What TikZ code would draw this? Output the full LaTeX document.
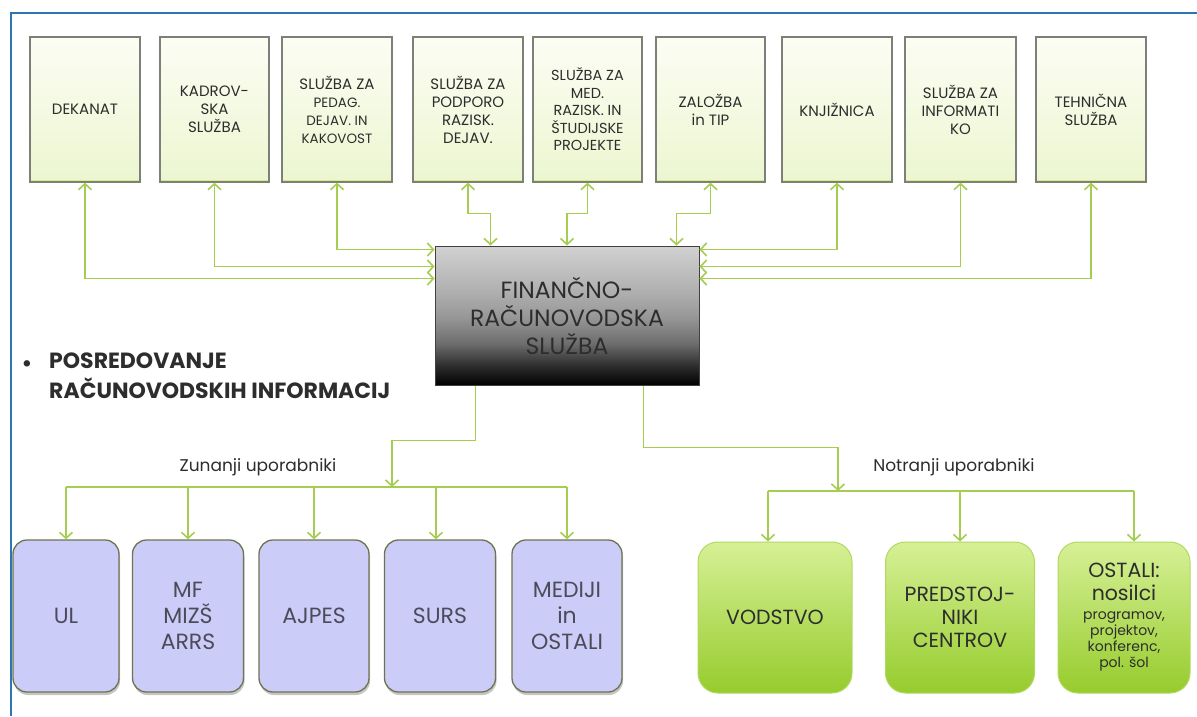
\documentclass[tikz,border=0pt]{standalone}
\usepackage{fontspec}
\setmainfont{Poppins}
\usetikzlibrary{arrows.meta,shadows,calc}
\definecolor{arrg}{RGB}{165,205,80}
\definecolor{framecol}{RGB}{46,117,182}
\definecolor{tbtop}{RGB}{252,253,244}
\definecolor{tbbot}{RGB}{236,246,208}
\definecolor{tbedge}{RGB}{215,236,130}
\definecolor{tbdraw}{RGB}{125,128,120}
\definecolor{lav}{RGB}{204,204,248}
\definecolor{lavdraw}{RGB}{110,115,80}
\definecolor{grtop}{RGB}{214,240,150}
\definecolor{grbot}{RGB}{150,204,45}
\definecolor{grdraw}{RGB}{178,216,95}
\definecolor{txt}{RGB}{45,45,45}
\definecolor{lavtxt}{RGB}{75,75,90}
\pgfdeclareverticalshading{finshade}{100bp}{color(0bp)=(black); color(25bp)=(black); color(32bp)=(black!82); color(40bp)=(black!57); color(50bp)=(black!40); color(60bp)=(black!30); color(75bp)=(black!18); color(100bp)=(black!18)}
\begin{document}
\begin{tikzpicture}[x=1pt,y=-1pt,
  topbox/.style={draw=tbdraw, line width=1.3pt, top color=tbtop, bottom color=tbbot,
    minimum height=145pt, align=center, text=txt, inner sep=1pt,
    font=\fontsize{15}{18}\selectfont,
    path picture={\draw[tbedge, line width=5pt] (path picture bounding box.south west) -- (path picture bounding box.south east);}},
  finbox/.style={draw=black!75, line width=1pt, shading=finshade,
    minimum width=264pt, minimum height=139pt, align=center, text=txt,
    font=\fontsize{23.5}{28}\selectfont},
  lavbox/.style={draw=lavdraw, line width=1.3pt, fill=lav, rounded corners=14pt,
    minimum height=152pt, align=center, text=lavtxt,
    font=\fontsize{22}{26}\selectfont,
    drop shadow={shadow xshift=1pt, shadow yshift=-3pt, opacity=0.45}},
  grbox/.style={draw=grdraw, line width=1pt, top color=grtop, bottom color=grbot, rounded corners=20pt,
    minimum height=151pt, align=center, text=txt,
    font=\fontsize{20.5}{23}\selectfont},
  lbl/.style={text=txt, font=\fontsize{17}{18}\selectfont},
  conn/.style={draw=arrg, line width=1.6pt},
  biarr/.style={conn, {Straight Barb[length=6pt,width=13pt]}-{Straight Barb[length=6pt,width=13pt]}},
  onearr/.style={conn, -{Straight Barb[length=6pt,width=13pt]}}
]
\useasboundingbox (0,0) rectangle (1197,716);
\fill[white] (0,0) rectangle (1197,716);
\draw[framecol, line width=2pt] (11,716) -- (11,13) -- (1197,13);

% top boxes
\node[topbox, minimum width=110pt] (dek) at (85,109.5) {DEKANAT};
\node[topbox, minimum width=109pt] (kad) at (214.5,109.5) {KADROV-\\SKA\\SLUŽBA};
\node[topbox, minimum width=110pt] (ped) at (337,109.5) {SLUŽBA ZA\\{\fontsize{13.5}{17}\selectfont PEDAG.}\\{\fontsize{13.5}{17}\selectfont DEJAV. IN}\\{\fontsize{13.5}{17}\selectfont KAKOVOST}};
\node[topbox, minimum width=110pt] (pod) at (468,109.5) {SLUŽBA ZA\\PODPORO\\RAZISK.\\DEJAV.};
\node[topbox, minimum width=109pt, font=\fontsize{14.5}{17.5}\selectfont] (med) at (587.5,109.5) {SLUŽBA ZA\\MED.\\RAZISK. IN\\ŠTUDIJSKE\\PROJEKTE};
\node[topbox, minimum width=109pt] (zal) at (710.5,109.5) {ZALOŽBA\\in TIP};
\node[topbox, minimum width=110pt] (knj) at (837,109.5) {KNJIŽNICA};
\node[topbox, minimum width=111pt] (inf) at (960.5,109.5) {SLUŽBA ZA\\INFORMATI\\KO};
\node[topbox, minimum width=110pt] (teh) at (1091,109.5) {TEHNIČNA\\SLUŽBA};

% central box
\node[finbox] (fin) at (567,315.5) {FINANČNO-\\RAČUNOVODSKA\\SLUŽBA};

% connectors top
\draw[biarr] (dek.south) |- ($(fin.north west)+(0,33)$);
\draw[biarr] (kad.south) |- ($(fin.north west)+(0,21)$);
\draw[biarr] (ped.south) |- ($(fin.north west)+(0,4)$);
\draw[biarr] (pod.south) -- ++(0,31) -| ($(fin.north west)+(56,0)$);
\draw[biarr] (med.south) -- ++(0,31) -| (fin.north);
\draw[biarr] (zal.south) -- ++(0,31) -| ($(fin.north west)+(242,0)$);
\draw[biarr] (knj.south) |- ($(fin.north east)+(0,4)$);
\draw[biarr] (inf.south) |- ($(fin.north east)+(0,21)$);
\draw[biarr] (teh.south) |- ($(fin.north east)+(0,33)$);

% bullet text
\node[anchor=center, text=txt, font=\fontsize{26}{28}\selectfont] (bul) at (27,367) {•};
\node[anchor=north west, align=left, text=txt, inner sep=0pt, font=\bfseries\fontsize{22}{30}\selectfont] (pos) at (49,353) {POSREDOVANJE\\RAČUNOVODSKIH INFORMACIJ};

% bottom left boxes
\node[lavbox, minimum width=106pt] (ul) at (66,616) {UL};
\node[lavbox, minimum width=111pt] (mf) at (188,616) {MF\\MIZŠ\\ARRS};
\node[lavbox, minimum width=110pt] (ajp) at (314,616) {AJPES};
\node[lavbox, minimum width=111pt] (sur) at (440,616) {SURS};
\node[lavbox, minimum width=110pt] (mdj) at (567,616) {MEDIJI\\in\\OSTALI};

% bottom right boxes
\node[grbox, minimum width=154pt] (vod) at (775,617.5) {VODSTVO};
\node[grbox, minimum width=149pt] (pre) at (960,617.5) {PREDSTOJ-\\NIKI\\CENTROV};
\node[grbox, minimum width=132pt] (ost) at (1124,617.5) {OSTALI:\\nosilci\\[-4pt]{\fontsize{14}{15.5}\selectfont programov,}\\[-7pt]{\fontsize{14}{15.5}\selectfont projektov,}\\[-7pt]{\fontsize{14}{15.5}\selectfont konferenc,}\\[-7pt]{\fontsize{14}{15.5}\selectfont pol. šol}};

% labels
\node[lbl] (zl) at (258,467) {Zunanji uporabniki};
\node[lbl] (nl) at (954,467) {Notranji uporabniki};

% bottom connectors: external
\coordinate (zbus) at (392,487);
\draw[onearr] ($(fin.south west)+(41,0)$) -- ++(0,55) -| (zbus);
\draw[conn] (ul.north |- zbus) -- (mdj.north |- zbus);
\draw[onearr] (ul.north |- zbus) -- (ul.north);
\draw[onearr] (mf.north |- zbus) -- (mf.north);
\draw[onearr] (ajp.north |- zbus) -- (ajp.north);
\draw[onearr] ([xshift=-4pt]sur.north |- zbus) -- ([xshift=-4pt]sur.north);
\draw[onearr] (mdj.north |- zbus) -- (mdj.north);

% bottom connectors: internal
\coordinate (nbus) at (838,491);
\draw[onearr] ($(fin.south west)+(209,0)$) -- ++(0,62) -| (nbus);
\draw[conn] ([xshift=-7pt]vod.north |- nbus) -- ([xshift=10pt]ost.north |- nbus);
\draw[onearr] ([xshift=-7pt]vod.north |- nbus) -- ([xshift=-7pt]vod.north);
\draw[onearr] (pre.north |- nbus) -- (pre.north);
\draw[onearr] ([xshift=10pt]ost.north |- nbus) -- ([xshift=10pt]ost.north);
\end{tikzpicture}
\end{document}
